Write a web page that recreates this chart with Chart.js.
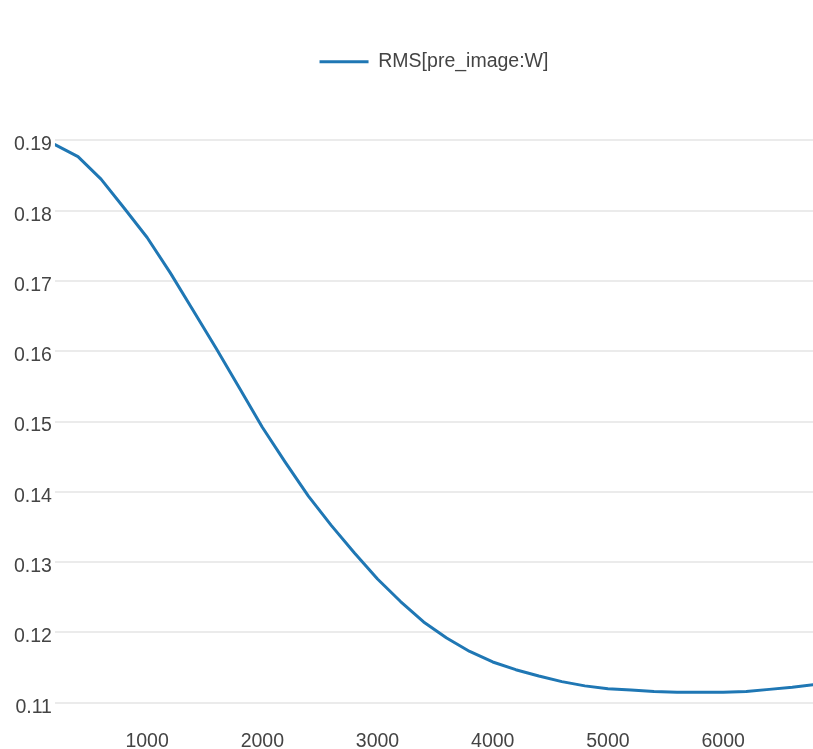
<!DOCTYPE html>
<html>
<head>
<meta charset="utf-8">
<title>RMS[pre_image:W]</title>
<script src="https://cdn.jsdelivr.net/npm/chart.js@4/dist/chart.umd.min.js"></script>
<style>
  html, body { margin: 0; padding: 0; background: #ffffff; }
  #wrap { width: 813px; height: 749px; position: relative; }
</style>
</head>
<body>
<div id="wrap"><canvas id="chart" width="813" height="749"></canvas></div>
<script>
// Training step (x) and RMS of the pre_image weights (y)
const steps = [
  200, 400, 600, 800, 1000, 1200, 1400, 1600, 1800, 2000,
  2200, 2400, 2600, 2800, 3000, 3200, 3400, 3600, 3800, 4000,
  4200, 4400, 4600, 4800, 5000, 5200, 5400, 5600, 5800, 6000,
  6200, 6400, 6600, 6800
];
const rmsValues = [
  0.1894, 0.1877, 0.1845, 0.1804, 0.1762, 0.1712, 0.1658, 0.1604, 0.1548, 0.1492,
  0.1442, 0.1394, 0.1352, 0.1313, 0.1276, 0.1244, 0.1215, 0.1192, 0.1173, 0.1158,
  0.1147, 0.1138, 0.1130, 0.1124, 0.1120, 0.1118, 0.1116, 0.1115, 0.1115, 0.1115,
  0.1116, 0.1119, 0.1122, 0.1126
];
const seriesName = 'RMS[pre_image:W]';
const xTicks = [1000, 2000, 3000, 4000, 5000, 6000];
const yTicks = [0.11, 0.12, 0.13, 0.14, 0.15, 0.16, 0.17, 0.18, 0.19];
const xRange = [200, 6780];
const yRange = [0.1076, 0.19839];

const textColor = '#444444';
const fontFamily = '"Liberation Sans", Arial, Helvetica, sans-serif';
const fontSize = 19.5;

// Center the legend over the plotting area rather than the whole canvas
const legendOverPlot = {
  id: 'legendOverPlot',
  afterLayout(chart) {
    if (chart.legend) {
      chart.legend.left = chart.chartArea.left;
      chart.legend.right = chart.chartArea.right;
    }
  }
};

new Chart(document.getElementById('chart'), {
  type: 'line',
  data: {
    datasets: [{
      label: seriesName,
      data: steps.map((s, i) => ({ x: s, y: rmsValues[i] })),
      borderColor: '#1f77b4',
      backgroundColor: '#1f77b4',
      borderWidth: 3,
      pointRadius: 0,
      pointHoverRadius: 0,
      tension: 0,
      fill: false,
      borderJoinStyle: 'round',
      borderCapStyle: 'round'
    }]
  },
  options: {
    responsive: false,
    animation: false,
    events: [],
    layout: { padding: { top: 42, left: 11, right: 0, bottom: 0 } },
    plugins: {
      legend: {
        display: true,
        position: 'top',
        align: 'center',
        labels: {
          usePointStyle: true,
          pointStyle: 'line',
          pointStyleWidth: 49,
          padding: 10,
          color: textColor,
          font: { family: fontFamily, size: fontSize }
        }
      },
      tooltip: { enabled: false }
    },
    scales: {
      x: {
        type: 'linear',
        min: xRange[0],
        max: xRange[1],
        afterBuildTicks: (axis) => { axis.ticks = xTicks.map(v => ({ value: v })); },
        afterFit: (axis) => { axis.height = 29.4; },
        grid: { display: false, drawTicks: false },
        border: { display: false },
        ticks: {
          padding: 10,
          maxRotation: 0,
          color: textColor,
          font: { family: fontFamily, size: fontSize },
          callback: (v) => String(v)
        }
      },
      y: {
        type: 'linear',
        min: yRange[0],
        max: yRange[1],
        afterBuildTicks: (axis) => { axis.ticks = yTicks.map(v => ({ value: v })); },
        grid: { color: '#ebebeb', lineWidth: 2, drawTicks: false },
        border: { display: false },
        ticks: {
          padding: 3,
          labelOffset: 4.5,
          color: textColor,
          font: { family: fontFamily, size: fontSize },
          callback: (v) => v.toFixed(2)
        }
      }
    }
  },
  plugins: [legendOverPlot]
});
</script>
</body>
</html>
